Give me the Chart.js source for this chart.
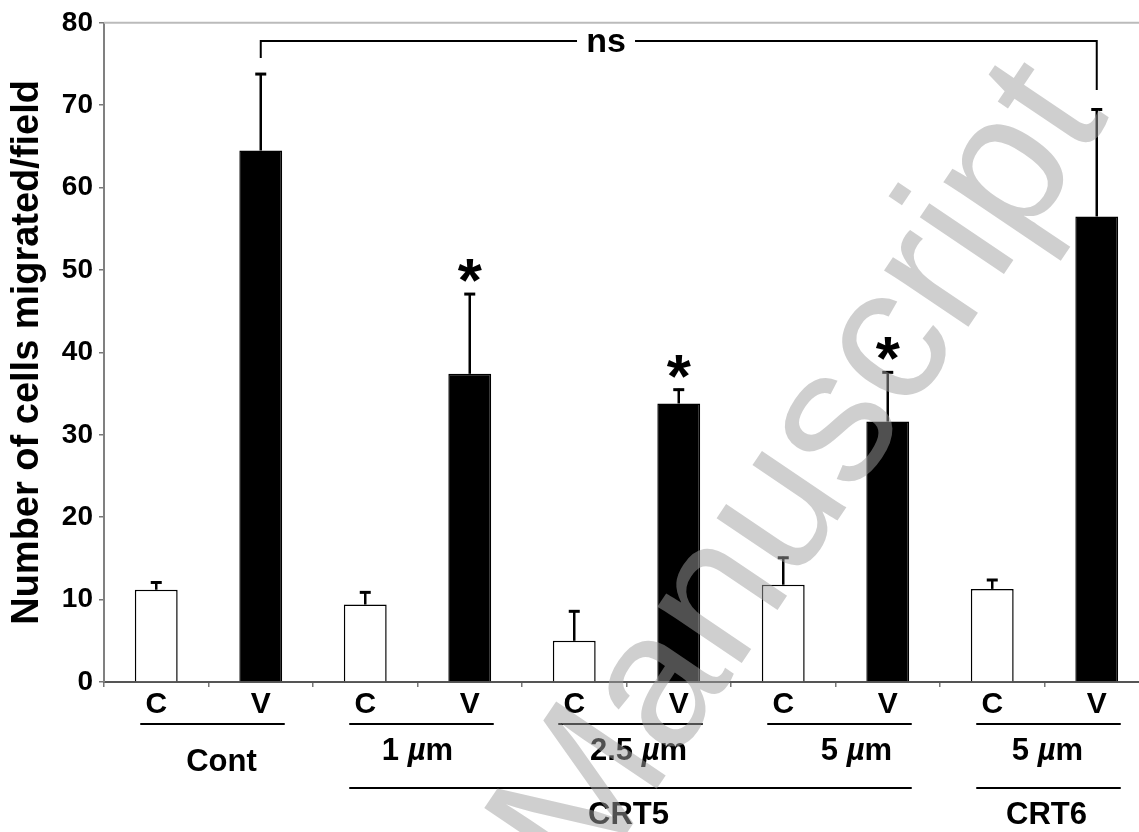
<!DOCTYPE html>
<html>
<head>
<meta charset="utf-8">
<script src="https://cdn.jsdelivr.net/npm/chart.js@4.4.1/dist/chart.umd.min.js"></script>
<style>
  html, body { margin: 0; padding: 0; background: #fff; overflow: hidden; }
  #wrap { width: 1160px; height: 832px; }
</style>
</head>
<body>
<div id="wrap"><canvas id="chart"></canvas></div>
<script>
// C = control, V = treated; five pairs
var barLabels = ['C', 'V', 'C', 'V', 'C', 'V', 'C', 'V', 'C', 'V'];
var means = [11.2, 64.5, 9.4, 37.4, 5.0, 33.8, 11.8, 31.6, 11.3, 56.5];
var errTops = [12.2, 73.9, 11.0, 47.2, 8.7, 35.6, 15.2, 37.7, 12.5, 69.6];
var starred = [false, false, false, true, false, true, false, true, false, false];

// group labels under the pairs
var doseLabels = ['Cont', '1 µm', '2.5 µm', '5 µm', '5 µm'];
var drugLabels = ['CRT5', 'CRT6'];
var drugPairs = [[1, 3], [4, 4]]; // first and last pair of each drug

var nsLabel = 'ns';
var nsFrom = 1, nsTo = 9, nsLevel = 77.8;
var watermark = 'Manuscript';

var FONT = "'Liberation Sans', Arial, Helvetica, sans-serif";
Chart.defaults.font.family = FONT;
Chart.defaults.color = '#000';

// draw text where "µ" is italic, centered on x
function drawMu(ctx, text, x, y, size) {
    var parts = text.split('µ');
    var segs = [];
    parts.forEach(function (p, i) {
        if (i > 0) segs.push({ t: 'µ', f: 'italic bold ' + size + 'px ' + FONT });
        if (p) segs.push({ t: p, f: 'bold ' + size + 'px ' + FONT });
    });
    var w = 0;
    segs.forEach(function (s) { ctx.font = s.f; s.w = ctx.measureText(s.t).width; w += s.w; });
    var cx = x - w / 2;
    ctx.textAlign = 'left';
    segs.forEach(function (s) { ctx.font = s.f; ctx.fillText(s.t, cx, y); cx += s.w; });
}

var extras = {
    id: 'extras',
    afterDatasetsDraw: function (chart) {
        var ctx = chart.ctx;
        var xs = chart.scales.x, ys = chart.scales.y;
        var area = chart.chartArea;
        var bars = chart.getDatasetMeta(0).data;
        ctx.save();

        // top frame line
        ctx.strokeStyle = '#bbbbbb';
        ctx.lineWidth = 2;
        ctx.beginPath();
        ctx.moveTo(area.left, area.top);
        ctx.lineTo(chart.width, area.top);
        ctx.stroke();

        // error bars + stars
        ctx.strokeStyle = '#000';
        ctx.fillStyle = '#000';
        bars.forEach(function (b, i) {
            var yt = ys.getPixelForValue(errTops[i]);
            ctx.lineWidth = 2.5;
            ctx.beginPath();
            ctx.moveTo(b.x, b.y);
            ctx.lineTo(b.x, yt);
            ctx.stroke();
            ctx.lineWidth = 3;
            ctx.beginPath();
            ctx.moveTo(b.x - 5.5, yt + 1);
            ctx.lineTo(b.x + 5.5, yt + 1);
            ctx.stroke();
            if (starred[i]) {
                ctx.font = 'bold 62px ' + FONT;
                ctx.textAlign = 'center';
                ctx.textBaseline = 'alphabetic';
                ctx.fillText('*', b.x, yt + 8);
            }
        });

        // ns bracket
        var x1 = bars[nsFrom].x, x2 = bars[nsTo].x;
        var yb = ys.getPixelForValue(nsLevel);
        ctx.lineWidth = 2;
        ctx.beginPath();
        ctx.moveTo(x1, yb + 17);
        ctx.lineTo(x1, yb);
        ctx.lineTo(x2, yb);
        ctx.lineTo(x2, yb + 49);
        ctx.stroke();
        var nx = x1 + (x2 - x1) * 0.413;
        ctx.font = 'bold 34px ' + FONT;
        ctx.fillStyle = '#fff';
        ctx.fillRect(nx - 29, yb - 14, 58, 28);
        ctx.fillStyle = '#000';
        ctx.textAlign = 'center';
        ctx.textBaseline = 'middle';
        ctx.fillText(nsLabel, nx, yb + 2);

        // group lines and labels below the axis
        var shift = [13, 0, 12, 21, 3];
        ctx.lineWidth = 2;
        ctx.textBaseline = 'middle';
        doseLabels.forEach(function (lab, g) {
            var a = xs.getPixelForValue(2 * g), c = xs.getPixelForValue(2 * g + 1);
            ctx.beginPath();
            ctx.moveTo(a - 16, 724);
            ctx.lineTo(c + 24, 724);
            ctx.stroke();
            drawMu(ctx, lab, (a + c) / 2 + shift[g], g === 0 ? 762 : 751, 31);
        });
        drugLabels.forEach(function (lab, d) {
            var a = xs.getPixelForValue(2 * drugPairs[d][0]);
            var c = xs.getPixelForValue(2 * drugPairs[d][1] + 1);
            ctx.beginPath();
            ctx.moveTo(a - 16, 788);
            ctx.lineTo(c + 24, 788);
            ctx.stroke();
            ctx.font = 'bold 31px ' + FONT;
            ctx.textAlign = 'center';
            ctx.fillText(lab, (a + c) / 2 + 2, 815);
        });
        ctx.restore();
    },
    afterDraw: function (chart) {
        // faint diagonal watermark over everything
        var ctx = chart.ctx;
        ctx.save();
        ctx.translate(585, 895);
        ctx.rotate(-56 * Math.PI / 180);
        ctx.font = '192px ' + FONT;
        ctx.fillStyle = 'rgba(159,159,159,0.5)';
        ctx.textAlign = 'left';
        ctx.textBaseline = 'alphabetic';
        ctx.fillText(watermark, 0, 0);
        ctx.restore();
    }
};

var chart = new Chart(document.getElementById('chart'), {
    type: 'bar',
    data: {
        labels: barLabels,
        datasets: [{
            data: means,
            backgroundColor: barLabels.map(function (l) { return l === 'V' ? '#000' : '#fff'; }),
            borderColor: '#000',
            borderWidth: 1.5,
            categoryPercentage: 1,
            barPercentage: 0.41
        }]
    },
    plugins: [extras],
    options: {
        responsive: true,
        maintainAspectRatio: false,
        animation: false,
        layout: { padding: { top: 17, right: 11, bottom: 0, left: 0 } },
        plugins: { legend: { display: false }, tooltip: { enabled: false } },
        scales: {
            x: {
                grid: { drawOnChartArea: false, offset: true, tickLength: 5, color: '#777', lineWidth: 1.5 },
                border: { color: '#555', width: 2 },
                ticks: { font: { size: 30, weight: 'bold' }, padding: 0, color: '#000' },
                afterFit: function (s) { s.height = 150; }
            },
            y: {
                min: 0,
                max: 80,
                ticks: { stepSize: 10, font: { size: 28, weight: 'bold' }, padding: 6, color: '#000' },
                grid: { drawOnChartArea: false, tickLength: 5, color: '#777', lineWidth: 1.5 },
                border: { color: '#808080', width: 2 },
                title: {
                    display: true,
                    text: 'Number of cells migrated/field',
                    font: { size: 38, weight: 'bold' },
                    color: '#000',
                    padding: { top: 5, bottom: 0 }
                },
                afterFit: function (s) { s.width = 104; }
            }
        }
    }
});
</script>
</body>
</html>
